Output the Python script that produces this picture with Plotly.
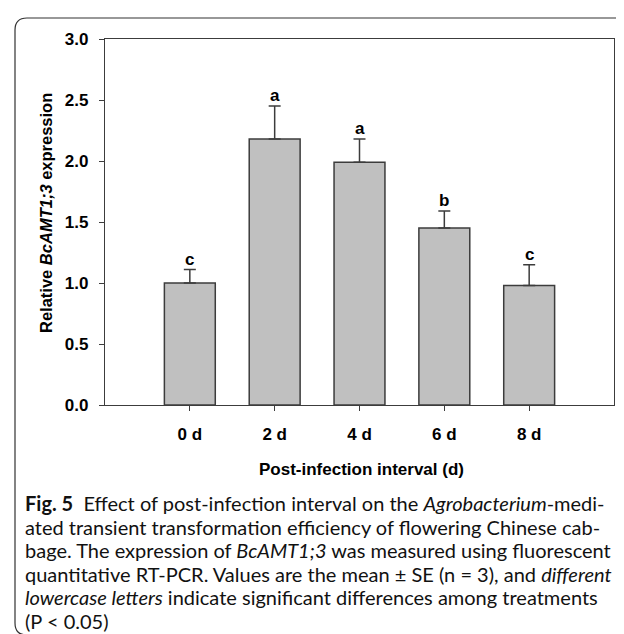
import plotly.graph_objects as go

categories = ["0 d", "2 d", "4 d", "6 d", "8 d"]
means = [1.00, 2.18, 1.99, 1.45, 0.98]
se = [0.11, 0.27, 0.19, 0.14, 0.17]
letters = ["c", "a", "a", "b", "c"]
y_ticks = [0.0, 0.5, 1.0, 1.5, 2.0, 2.5, 3.0]

caption_lines = [
    "<b>Fig. 5</b>  Effect of post-infection interval on the <i>Agrobacterium</i>-medi-",
    "ated transient transformation efficiency of flowering Chinese cab-",
    "bage. The expression of <i>BcAMT1;3</i> was measured using fluorescent",
    "quantitative RT-PCR. Values are the mean ± SE (n = 3), and <i>different</i>",
    "<i>lowercase letters</i> indicate significant differences among treatments",
    "(P < 0.05)",
]

W, H = 624, 634
L, R, T, B = 97, 606, 31, 397


def px(x):
    return (x - L) / (R - L)


def py(y):
    return (B - y) / (B - T)


AX = "#3c3c3c"
FONT = "Arial, Liberation Sans"
fig = go.Figure()
fig.add_trace(go.Bar(
    x=categories, y=means, width=0.6,
    marker=dict(color="#c0c0c0", line=dict(color=AX, width=1.5)),
    error_y=dict(type="data", symmetric=False, array=se, arrayminus=[0] * len(se),
                 color=AX, thickness=1.5, width=6),
))

for c, m, s, l in zip(categories, means, se, letters):
    fig.add_annotation(x=c, y=m + s, text="<b>" + l + "</b>", showarrow=False,
                       yanchor="bottom", yshift=-1,
                       font=dict(family=FONT, size=17, color="black"))

fig.update_layout(
    width=W, height=H,
    margin=dict(l=L, r=W - R, t=T, b=H - B, pad=0),
    paper_bgcolor="white", plot_bgcolor="white",
    showlegend=False,
    font=dict(family=FONT, size=17, color="black"),
)
fig.update_xaxes(
    type="category", categoryorder="array", categoryarray=categories,
    range=[-1, 5], showline=True, linecolor=AX, linewidth=1.2, mirror=True,
    ticks="outside", ticklen=5, tickcolor=AX, tickwidth=1.2,
    tickfont=dict(size=17, family=FONT), ticklabelstandoff=8,
    tickprefix="<b>", ticksuffix="</b>",
    showgrid=False, zeroline=False,
)
fig.update_yaxes(
    range=[0, 3], tickvals=y_ticks, ticktext=["<b>%.1f</b>" % v for v in y_ticks],
    showline=True, linecolor=AX, linewidth=1.2, mirror=True,
    ticks="outside", ticklen=5, tickcolor=AX, tickwidth=1.2,
    tickfont=dict(size=17, family=FONT), ticklabelstandoff=7,
    showgrid=False, zeroline=False,
)

# axis titles
fig.add_annotation(xref="paper", yref="paper", x=px(353), y=py(461),
                   text="<b>Post-infection interval (d)</b>", showarrow=False,
                   xanchor="center", yanchor="middle",
                   font=dict(family=FONT, size=17, color="black"))
fig.add_annotation(xref="paper", yref="paper", x=px(38), y=py(205),
                   text="<b>Relative <i>BcAMT1;3</i> expression</b>", showarrow=False,
                   textangle=-90, xanchor="center", yanchor="middle",
                   font=dict(family=FONT, size=16.5, color="black"))

# caption
for i, line in enumerate(caption_lines):
    fig.add_annotation(xref="paper", yref="paper", x=px(15), y=py(495 + 23.5 * i),
                       text=line, showarrow=False, xanchor="left", yanchor="middle",
                       align="left",
                       font=dict(family="Lato", size=20, color="#111"))

# rounded frame
x0, y0, x1, y1, r = 7, 10, 660, 627, 12
path = (f"M {px(x0 + r)},{py(y0)} L {px(x1)},{py(y0)} "
        f"M {px(x1)},{py(y1)} L {px(x0 + r)},{py(y1)} "
        f"Q {px(x0)},{py(y1)} {px(x0)},{py(y1 - r)} "
        f"L {px(x0)},{py(y0 + r)} Q {px(x0)},{py(y0)} {px(x0 + r)},{py(y0)}")
fig.add_shape(type="path", xref="paper", yref="paper", path=path,
              line=dict(color="#333", width=1.2))

fig.write_html("out.html")
